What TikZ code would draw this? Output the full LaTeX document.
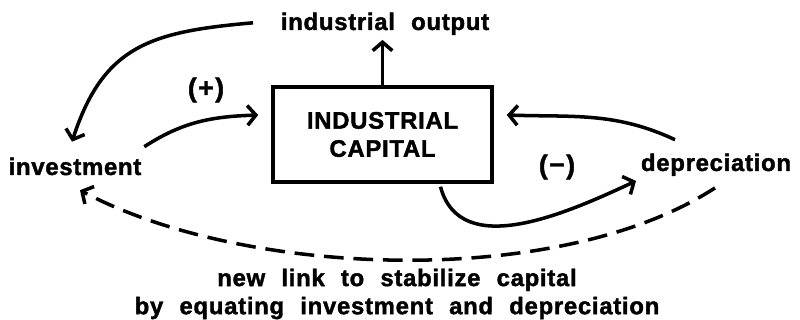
\documentclass[tikz,border=0pt]{standalone}
\usepackage{fontspec}
\setmainfont{Liberation Sans}[WordSpace=2.2,LetterSpace=3,BoldFeatures={FakeBold=1.6}]
\usetikzlibrary{arrows.meta,calc}

\begin{document}
\begin{tikzpicture}[x=0.025cm,y=0.025cm,
  lbl/.style={font=\fontsize{17}{20}\selectfont\bfseries},
  sign/.style={font=\fontsize{19}{22}\selectfont\bfseries},
  link/.style={line width=2.5pt,-{Straight Barb[length=6pt,width=14pt]}}]
\useasboundingbox (0,0) rectangle (800,320);
\node[lbl,anchor=base] (out) at (385,290) {industrial output};
\node[lbl,draw,line width=2.5pt,minimum width=5.475cm,minimum height=2.375cm,align=center] (cap) at (382.5,185.5) {INDUSTRIAL\\CAPITAL};
\node[lbl,anchor=base] (inv) at (75,145) {investment};
\node[lbl,anchor=base] (dep) at (716,149) {depreciation};
\node[sign] (plus) at (206,230) {(\kern1pt+\kern1pt)};
\node[sign] (minus) at (557,153) {(\kern1pt−\kern1pt)};
\node[lbl,align=center] (note) at (397,26) {new link to stabilize capital\\by equating investment and depreciation};
\draw[link] ($(out.west)+(-23,1)$) to[out=185,in=72,looseness=1.2] ($(inv.north)+(-3,11)$);
\draw[link] ($(inv.north east)+(-2,6)$) to[out=33,in=182] ($(cap.west)+(-13,19.5)$);
\draw[link] (cap.north) -- (cap.north |- out.south);
\draw[link] ($(dep.north)+(-41,9)$) to[out=155,in=-2] ($(cap.east)+(13,19.5)$);
\draw[link] ($(cap.south)+(58,-3)$) to[out=-75,in=205] (dep.south west);
\draw[link,dash pattern=on 14pt off 7pt] ($(dep.south)+(-1,-7)$) to[out=213,in=-28,looseness=0.75] ($(inv.south)+(5,-10)$);
\end{tikzpicture}
\end{document}
